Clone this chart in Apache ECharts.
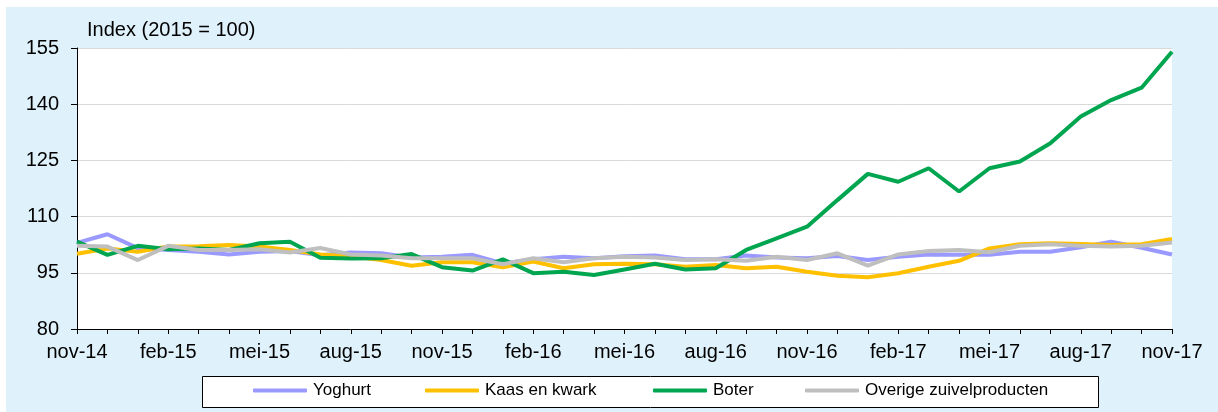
<!DOCTYPE html>
<html>
<head>
<meta charset="utf-8">
<script src="https://cdn.jsdelivr.net/npm/echarts@6/dist/echarts.min.js"></script>
<style>
html,body{margin:0;padding:0;background:#fff;}
#chart{width:1218px;height:412px;}
</style>
</head>
<body>
<div id="chart"></div>
<script>
const categories = ['nov-14','dec-14','jan-15','feb-15','mrt-15','apr-15','mei-15','jun-15','jul-15','aug-15','sep-15','okt-15',
  'nov-15','dec-15','jan-16','feb-16','mrt-16','apr-16','mei-16','jun-16','jul-16','aug-16','sep-16','okt-16',
  'nov-16','dec-16','jan-17','feb-17','mrt-17','apr-17','mei-17','jun-17','jul-17','aug-17','sep-17','okt-17','nov-17'];
const yoghurt = [103.0,105.3,101.6,101.1,100.6,99.9,100.6,100.8,99.7,100.4,100.2,99.1,
  99.3,99.8,97.5,98.6,99.3,98.9,99.4,99.6,98.6,98.6,99.6,99.1,
  98.9,99.5,98.4,99.3,99.9,99.8,99.8,100.6,100.6,101.8,103.3,101.7,99.9];
const kaas = [100.1,101.5,100.6,102.0,102.1,102.4,102.0,101.1,99.9,99.4,98.4,96.9,
  97.8,97.8,96.5,98.0,96.2,97.3,97.4,97.3,96.6,97.1,96.2,96.6,
  95.3,94.2,93.8,94.9,96.6,98.2,101.5,102.6,102.9,102.7,102.4,102.6,104.0];
const boter = [103.3,99.8,102.2,101.3,101.5,101.1,102.9,103.3,99.0,98.8,98.9,100.0,
  96.5,95.6,98.6,94.9,95.3,94.4,95.9,97.4,95.9,96.2,101.1,104.2,
  107.3,114.4,121.4,119.3,122.9,116.7,122.9,124.7,129.6,136.7,141.1,144.4,154.0];
const overige = [102.2,102.0,98.4,102.2,101.1,101.1,101.3,100.4,101.6,99.9,99.6,98.9,
  98.9,98.9,97.3,98.9,97.8,98.9,99.3,99.1,98.4,98.6,98.2,99.3,
  98.4,100.2,96.9,99.9,100.8,101.1,100.5,102.2,102.6,102.2,102.0,102.2,103.1];
const seriesNames = ['Yoghurt','Kaas en kwark','Boter','Overige zuivelproducten'];
const seriesColors = ['#9999FF','#FFC000','#00A550','#BFBFBF'];
const yTicks = {min:80, max:155, interval:15};
const titleText = 'Index (2015 = 100)';

const FONT = '"Liberation Sans", Arial, sans-serif';
const chart = echarts.init(document.getElementById('chart'), null, {renderer:'canvas'});
const dataSets = [yoghurt, kaas, boter, overige];
const legendLefts = [253, 425, 653, 805];

const option = {
  animation: false,
  textStyle: {fontFamily: FONT},
  graphic: [
    {type:'rect', z:-10, silent:true, shape:{x:6, y:7, width:1212, height:405}, style:{fill:'#DFF1FB'}},
    {type:'rect', z:-5, silent:true, shape:{x:202.5, y:376.5, width:896, height:31}, style:{fill:'#fff', stroke:'#000', lineWidth:1}}
  ],
  title: {text: titleText, left: 82, top: 15, textStyle:{fontFamily:FONT, fontSize:20, fontWeight:'normal', color:'#000'}},
  legend: seriesNames.map((n,i)=>({
    data:[n], left: legendLefts[i], top: 382, itemWidth: 54, itemHeight: 4, icon:'roundRect', itemGap: 0,
    padding: 0, textStyle:{fontFamily:FONT, fontSize:17, color:'#000', padding:[0,0,0,1]}, selectedMode:false
  })),
  grid: {left:77, right:46, top:48, bottom:83, show:true, backgroundColor:'#fff', borderWidth:0},
  xAxis: {
    type:'category', data: categories, boundaryGap:false,
    axisLine:{lineStyle:{color:'#000', width:1}},
    axisTick:{show:true, interval:0, length:5, lineStyle:{color:'#000'}},
    axisLabel:{interval:2, margin:13, fontFamily:FONT, fontSize:20, color:'#000'},
    splitLine:{show:false}
  },
  yAxis: {
    type:'value', min:yTicks.min, max:yTicks.max, interval:yTicks.interval,
    axisLine:{show:true, lineStyle:{color:'#000', width:1}},
    axisTick:{show:true, length:6, lineStyle:{color:'#000'}},
    axisLabel:{margin:18, fontFamily:FONT, fontSize:20, color:'#000'},
    splitLine:{show:true, lineStyle:{color:'#D9D9D9', width:1}}
  },
  series: seriesNames.map((n,i)=>({
    name:n, type:'line', data:dataSets[i], symbol:'none', showSymbol:false,
    lineStyle:{color:seriesColors[i], width:4}, itemStyle:{color:seriesColors[i]},
    z: 2+i
  }))
};
chart.setOption(option);
</script>
</body>
</html>
